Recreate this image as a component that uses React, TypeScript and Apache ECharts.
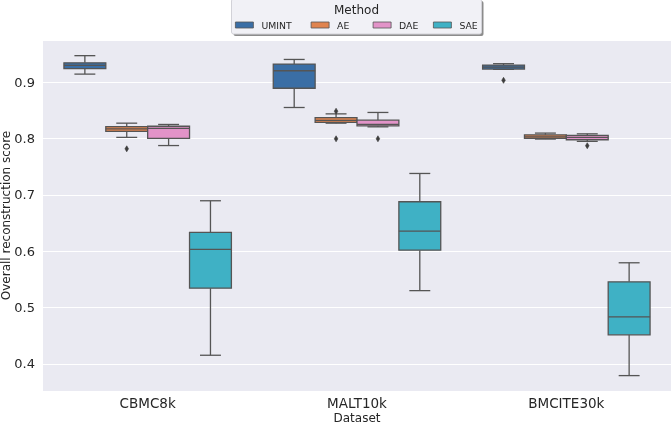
import React, { useEffect, useRef } from "react";
import * as echarts from "echarts";

const categories = ["CBMC8k", "MALT10k", "BMCITE30k"];
const methods = ["UMINT", "AE", "DAE", "SAE"];

// [min, q1, median, q3, max] per dataset
const umintBoxes = [
  [0.914, 0.9237, 0.9295, 0.934, 0.9467],
  [0.8548, 0.8889, 0.92, 0.9318, 0.94],
  [0.9224, 0.923, 0.9265, 0.93, 0.9325],
];
const aeBoxes = [
  [0.8018, 0.8125, 0.817, 0.8207, 0.827],
  [0.827, 0.8283, 0.832, 0.8368, 0.8435],
  [0.7988, 0.8, 0.8028, 0.8064, 0.8094],
];
const daeBoxes = [
  [0.7873, 0.8, 0.8177, 0.8215, 0.8247],
  [0.8205, 0.8223, 0.8247, 0.8323, 0.846],
  [0.7947, 0.7976, 0.8018, 0.8053, 0.8081],
];
const saeBoxes = [
  [0.4154, 0.5344, 0.603, 0.6332, 0.6894],
  [0.53, 0.6018, 0.6355, 0.6876, 0.7378],
  [0.3793, 0.4516, 0.4835, 0.5457, 0.5794],
];

// [datasetIndex, value]
const umintOutliers = [[2, 0.903]];
const aeOutliers = [[0, 0.7815], [1, 0.7993], [1, 0.8482]];
const daeOutliers = [[1, 0.7993], [2, 0.787]];
const saeOutliers: number[][] = [];

const yTickValues = [0.4, 0.5, 0.6, 0.7, 0.8, 0.9];

const allBoxes = [umintBoxes, aeBoxes, daeBoxes, saeBoxes];
const allOutliers = [umintOutliers, aeOutliers, daeOutliers, saeOutliers];
const colors = ["#3a6ea5", "#e0844f", "#e293c8", "#3fb1c5"];
const lineColor = "#555555";
const FONT = "DejaVu Sans";
const TEXT = "#262626";

export default function App() {
  const ref = useRef<HTMLDivElement>(null);
  useEffect(() => {
    if (!ref.current) return;
    const chart = echarts.init(ref.current, undefined, { renderer: "svg" });

    const boxSeries = methods.map((m, hi) => ({
      type: "custom",
      name: m,
      data: allBoxes[hi].map((b, ci) => [ci, ...b]),
      encode: { x: 0, y: [1, 2, 3, 4, 5] },
      renderItem: (params: any, api: any) => {
        const ci = api.value(0);
        const bw = api.size([1, 0])[0];
        const w = bw * 0.2;
        const cx = api.coord([ci, 0])[0] + (hi - 1.5) * w;
        const y = (k: number) => api.coord([ci, api.value(k)])[1];
        const yMin = y(1), yQ1 = y(2), yMed = y(3), yQ3 = y(4), yMax = y(5);
        const ls = { stroke: lineColor, lineWidth: 1.3 };
        const half = w / 2;
        const cap = w / 4;
        return {
          type: "group",
          children: [
            { type: "line", shape: { x1: cx, y1: yQ1, x2: cx, y2: yMin }, style: ls },
            { type: "line", shape: { x1: cx, y1: yQ3, x2: cx, y2: yMax }, style: ls },
            { type: "line", shape: { x1: cx - cap, y1: yMin, x2: cx + cap, y2: yMin }, style: ls },
            { type: "line", shape: { x1: cx - cap, y1: yMax, x2: cx + cap, y2: yMax }, style: ls },
            {
              type: "rect",
              shape: { x: cx - half, y: yQ3, width: w, height: yQ1 - yQ3 },
              style: { fill: colors[hi], stroke: lineColor, lineWidth: 1.3 },
            },
            { type: "line", shape: { x1: cx - half, y1: yMed, x2: cx + half, y2: yMed }, style: ls },
          ],
        };
      },
    }));

    const outlierSeries = methods.map((m, hi) => ({
      type: "custom",
      name: m,
      data: allOutliers[hi],
      encode: { x: 0, y: 1 },
      renderItem: (params: any, api: any) => {
        const ci = api.value(0);
        const bw = api.size([1, 0])[0];
        const w = bw * 0.2;
        const p = api.coord([ci, api.value(1)]);
        const cx = p[0] + (hi - 1.5) * w;
        const cy = p[1];
        return {
          type: "polygon",
          shape: { points: [[cx, cy - 3], [cx + 1.8, cy], [cx, cy + 3], [cx - 1.8, cy]] },
          style: { fill: "#3d3d3d", stroke: "#3d3d3d", lineWidth: 0.6 },
        };
      },
    }));

    const legendLefts = [235, 310.7, 372.7, 433];

    chart.setOption({
      animation: false,
      textStyle: { fontFamily: FONT },
      grid: {
        left: 43,
        right: 0,
        top: 40,
        bottom: 33,
        show: true,
        backgroundColor: "#eaeaf2",
        borderWidth: 0,
        containLabel: false,
        outerBoundsMode: "none",
      },
      xAxis: {
        type: "category",
        data: categories,
        boundaryGap: true,
        name: "Dataset",
        nameLocation: "middle",
        nameGap: 21,
        nameMoveOverlap: false,
        nameTextStyle: { fontSize: 12, color: TEXT, fontFamily: FONT },
        axisLine: { show: false },
        axisTick: { show: false },
        axisLabel: { fontSize: 13.5, color: TEXT, margin: 5, fontFamily: FONT },
        splitLine: { show: false },
      },
      yAxis: {
        type: "value",
        min: 0.352,
        max: 0.9745,
        splitNumber: 6,
        name: "Overall reconstruction score",
        nameLocation: "middle",
        nameGap: 31,
        nameMoveOverlap: false,
        nameTextStyle: { fontSize: 12, color: TEXT, fontFamily: FONT },
        axisLine: { show: false },
        axisTick: { show: false },
        axisLabel: {
          fontSize: 13,
          color: TEXT,
          margin: 8,
          fontFamily: FONT,
          showMinLabel: false,
          showMaxLabel: false,
          formatter: (v: number) => {
            const hit = yTickValues.find((t) => Math.abs(t - v) < 1e-6);
            return hit !== undefined ? hit.toFixed(1) : "";
          },
        },
        splitLine: { show: true, lineStyle: { color: "#ffffff", width: 1 } },
      },
      legend: methods.map((m, i) => ({
        data: [
          {
            name: m,
            icon: "rect",
            itemStyle: { color: colors[i], borderColor: lineColor, borderWidth: 0.8 },
          },
        ],
        left: legendLefts[i],
        top: 19,
        padding: 0,
        itemWidth: 18,
        itemHeight: 6,
        selectedMode: false,
        textStyle: { fontSize: 9.3, color: TEXT, fontFamily: FONT, lineHeight: 12, padding: [0, 0, 0, 3] },
      })),
      graphic: [
        {
          type: "rect",
          shape: { x: 233.5, y: 1, width: 250, height: 35, r: 2 },
          style: { fill: "rgba(0,0,0,0.45)" },
          z: 1,
        },
        {
          type: "rect",
          shape: { x: 231.5, y: -1, width: 250, height: 35, r: 2 },
          style: { fill: "#f1f1f6", stroke: "#d2d2d8", lineWidth: 1 },
          z: 2,
        },
        {
          type: "text",
          x: 356.5,
          y: 9.5,
          style: {
            text: "Method",
            fontSize: 12,
            fontFamily: FONT,
            fill: TEXT,
            align: "center",
            verticalAlign: "middle",
          },
          z: 3,
        },
      ],
      series: [...boxSeries, ...outlierSeries],
    });
    return () => chart.dispose();
  }, []);
  return (
    <div
      ref={ref}
      style={{ position: "fixed", left: 0, top: 0, width: 671, height: 424 }}
    />
  );
}
